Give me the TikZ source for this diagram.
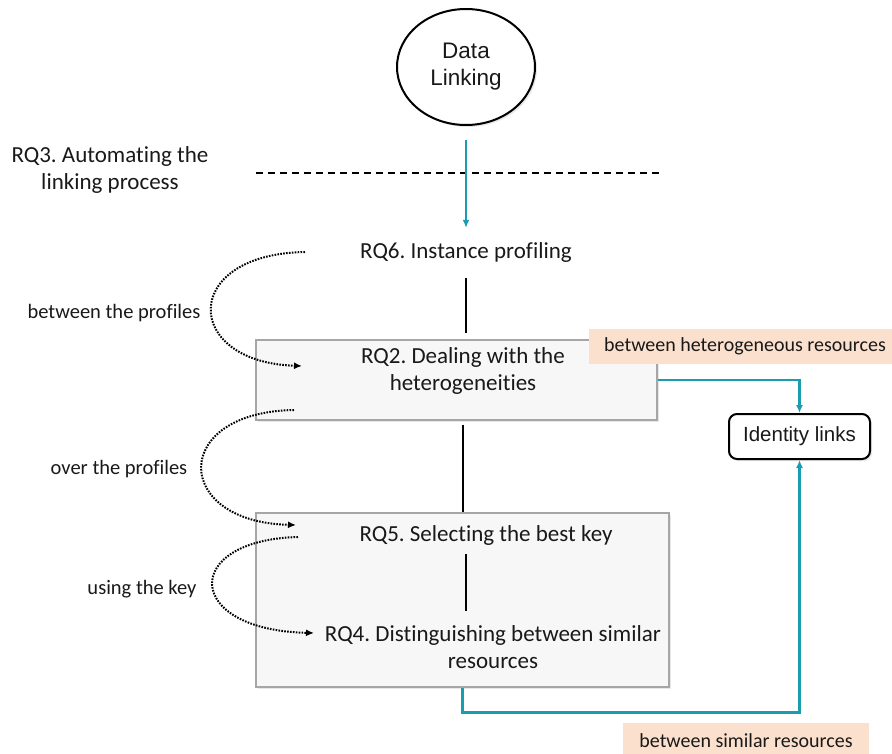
\documentclass[tikz,border=0pt]{standalone}
\usepackage{fontspec}
\setmainfont{Carlito}[Ligatures=NoCommon]
\newfontfamily\arialf{Liberation Sans}
\usetikzlibrary{arrows.meta,shapes.geometric,shadows,calc}
\definecolor{tealc}{HTML}{1A9DB0}
\definecolor{peach}{HTML}{FBE0CE}
\definecolor{boxfill}{HTML}{F7F7F7}
\definecolor{boxline}{HTML}{A6A6A6}
\frenchspacing
\begin{document}
\frenchspacing
\begin{tikzpicture}[x=1pt,y=-1pt,
  txt/.style={font=\fontsize{23}{27}\selectfont, align=center, inner sep=0pt, text=black!90},
  small/.style={font=\fontsize{20.5}{25}\selectfont, align=center, inner sep=0pt, text=black!90},
  graybox/.style={draw=boxline, fill=boxfill, line width=1.2pt, inner sep=0pt,
    drop shadow={shadow xshift=2pt, shadow yshift=-2pt, opacity=0.18}},
  tag/.style={fill=peach, font=\fontsize{20}{24}\selectfont, text=black!90, inner xsep=15pt, minimum height=35pt},
  tealarr/.style={draw=tealc, line width=2.4pt, -{Latex[length=8pt,width=7pt]}},
  blackline/.style={draw=black, line width=2.2pt},
  dotarr/.style={draw=black, line width=2pt, dash pattern=on 1.6pt off 1.3pt, -{Latex[length=8pt,width=7pt]}},
]
\useasboundingbox (0,0) rectangle (892,753);

% data linking
\node[ellipse, draw, line width=2pt, minimum width=138pt, minimum height=116pt, fill=white, inner sep=0pt,
  drop shadow={shadow xshift=2pt, shadow yshift=-2pt, opacity=0.18},
  font=\arialf\fontsize{22.5}{27}\selectfont, align=center, text=black!90] (dl) at (466,67) {Data\\Linking};

% RQ3 and dashed line
\node[txt] (rq3) at (110,170) {RQ3. Automating the\\linking process};
\coordinate (dashL) at (256,173);
\coordinate (dashR) at (659,173);
\draw[line width=2pt, dash pattern=on 7pt off 5pt] (dashL) -- (dashR);

% RQ6
\node[txt] (rq6) at (466,252) {RQ6. Instance profiling};

% boxes
\node[graybox, minimum width=401pt, minimum height=80pt] (rq2box) at (456.5,380) {};
\node[txt] (rq2) at (463,371) {RQ2. Dealing with the\\heterogeneities};
\node[graybox, minimum width=413pt, minimum height=174pt] (rq5box) at (462.5,600) {};
\node[txt] (rq5) at (486,535) {RQ5. Selecting the best key};
\node[txt] (rq4) at (493,647) {RQ4. Distinguishing between similar\\resources};

% identity links
\node[draw, rounded corners=8pt, line width=2pt, minimum width=141pt, minimum height=45pt, fill=white,
  drop shadow={shadow xshift=2pt, shadow yshift=-2pt, opacity=0.18},
  font=\arialf\fontsize{20.5}{24}\selectfont, text=black!90] (id) at (799.5,436.5) {Identity links};

% tags
\node[tag] (tag1) at (745,346.5) {between heterogeneous resources};
\node[tag, minimum height=36pt, inner xsep=16pt] (tag2) at (746,741) {between similar resources};

% connectors
\draw[tealarr] ($(dl.south)+(0,14)$) -- ($(rq6.north)+(0,-14)$);
\draw[blackline] ($(rq6.south)+(0,16)$) -- ($(rq2box.north)+(9.5,-6)$);
\draw[blackline] ($(rq2box.south)+(6.5,4)$) -- ($(rq5box.north)+(0.5,0)$);
\draw[blackline] ($(rq5box.north)+(3.5,42)$) -- ($(rq5box.north)+(3.5,99)$);
\draw[tealarr] (rq2box.east) -| (id.north);
\draw[tealarr] (rq5box.south) -- ++(0,25) -| (id.south);

% dotted curves
\coordinate (c1s) at (305,252);
\coordinate (c1e) at (302,366);
\coordinate (c2s) at (294,410);
\coordinate (c2e) at (296,525);
\coordinate (c3s) at (298,537);
\coordinate (c3e) at (314,633);
\draw[dotarr] (c1s) .. controls (180,254) and (182,362) .. (c1e);
\draw[dotarr] (c2s) .. controls (170,412) and (172,522) .. (c2e);
\draw[dotarr] (c3s) .. controls (181,540) and (183,630) .. (c3e);

\node[small] (lab1) at (114,313) {between the profiles};
\node[small] (lab2) at (119,469) {over the profiles};
\node[small] (lab3) at (142,589) {using the key};
\end{tikzpicture}
\end{document}
